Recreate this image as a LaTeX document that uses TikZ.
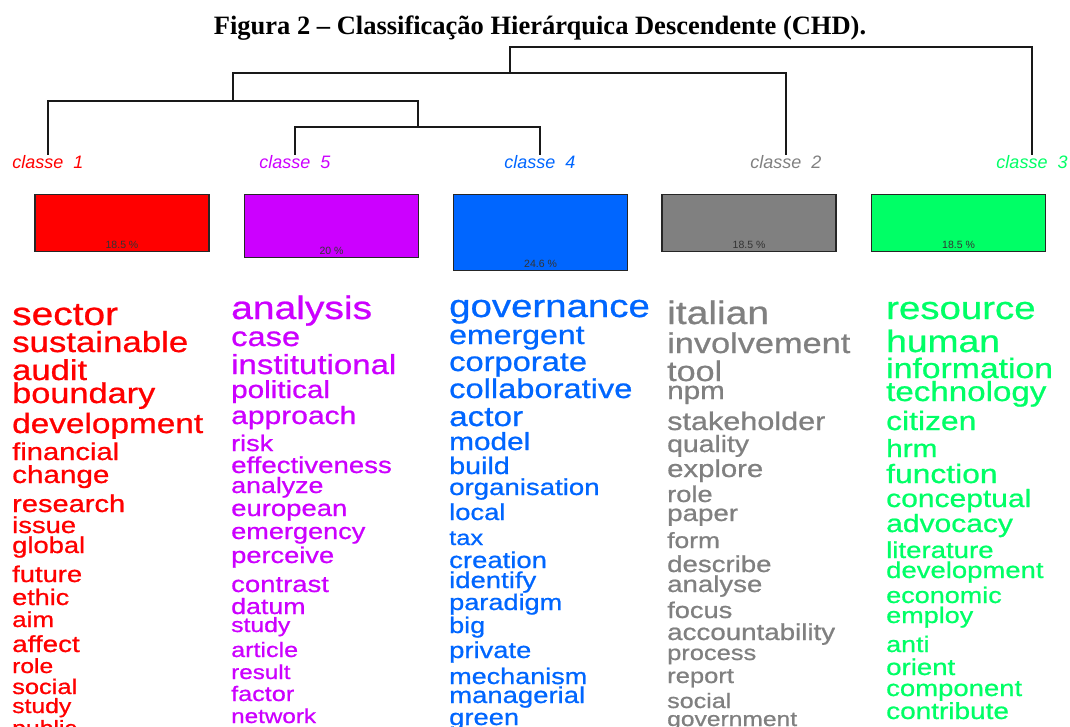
\documentclass[tikz,border=0pt]{standalone}
\usepackage{fontspec}
\setmainfont{Liberation Serif}
\newfontfamily\wordfont{Liberation Sans}[FakeStretch=1.2, FakeBold=0.8]
\newfontfamily\classfont{Liberation Sans}
\definecolor{cred}{HTML}{FF0000}
\definecolor{cmag}{HTML}{CC00FF}
\definecolor{cblue}{HTML}{0066FF}
\definecolor{cgray}{HTML}{808080}
\definecolor{cgreen}{HTML}{00FF66}
\tikzset{
  classlabel/.style = {anchor=north, inner sep=0pt, font=\classfont\itshape\fontsize{18}{18}\selectfont},
  classbox/.style   = {draw=black!85, line width=1.3pt, anchor=north, minimum width=174pt, inner sep=0pt},
  pct/.style        = {anchor=base, inner sep=0pt, text=black!80, font=\classfont\fontsize{10.5}{10.5}\selectfont},
  word/.style       = {anchor=base west, inner sep=0pt},
  tree/.style       = {draw=black!90, line width=1.4pt}
}
\begin{document}
\begin{tikzpicture}[x=1pt, y=-1pt]
  \useasboundingbox (0,0) rectangle (1070,727);
  \clip (0,0) rectangle (1070,727);

  % title
  \node [anchor=base, inner sep=0pt, font=\bfseries\fontsize{26.5}{26.5}\selectfont] (title) at (540,35)
    {Figura 2 -- Classificação Hierárquica Descendente (CHD).};

  % classes
  \node [classlabel, text=cred]   (c1) at (48,155)  {classe\ \ 1};
  \node [classlabel, text=cmag]   (c5) at (295,155) {classe\ \ 5};
  \node [classlabel, text=cblue]  (c4) at (540,155) {classe\ \ 4};
  \node [classlabel, text=cgray]  (c2) at (786,155) {classe\ \ 2};
  \node [classlabel, text=cgreen] (c3) at (1032,155) {classe\ \ 3};

  % dendrogram
  \coordinate (m1) at (418,127);
  \coordinate (m2) at (233,101);
  \coordinate (m3) at (510,73);
  \coordinate (m4) at (510,47);
  \path [tree] (c5.north) |- (m1) -| (c4.north);
  \path [tree] (c1.north) |- (m2) -| (m1);
  \path [tree] (m2) |- (m3) -| (c2.north);
  \path [tree] (m3) |- (m4) -| (c3.north);

  % boxes
  \node [classbox, fill=cred,   minimum height=57pt] (b1) at (122,194)   {};
  \node [classbox, fill=cmag,   minimum height=63pt] (b5) at (331.5,194) {};
  \node [classbox, fill=cblue,  minimum height=76pt] (b4) at (540.5,194) {};
  \node [classbox, fill=cgray,  minimum height=57pt] (b2) at (749,194)   {};
  \node [classbox, fill=cgreen, minimum height=57pt] (b3) at (958.5,194) {};
  \node [pct] (p1) at ([yshift=4pt]b1.south) {18.5 \%};
  \node [pct] (p5) at ([yshift=4pt]b5.south) {20 \%};
  \node [pct] (p4) at ([yshift=4pt]b4.south) {24.6 \%};
  \node [pct] (p2) at ([yshift=4pt]b2.south) {18.5 \%};
  \node [pct] (p3) at ([yshift=4pt]b3.south) {18.5 \%};

  % words
  \foreach \w/\s/\y [count=\i] in {sector/32.4/325, sustainable/29/352, audit/28.8/380, boundary/28.6/403,
      development/27.8/433, financial/24.3/460, change/24.7/483, research/24.2/512, issue/22.8/533,
      global/22.8/553, future/22.8/582, ethic/22.5/605, aim/21.7/627, affect/23.2/652, role/20.5/673,
      social/21.2/694, study/20.6/713, public/20.6/735}
    \node [word, text=cred, font=\wordfont\fontsize{\s}{\s}\selectfont] (wr\i) at (12,\y) {\w};
  \foreach \w/\s/\y [count=\i] in {analysis/32.5/319, case/27.2/346, institutional/27.5/374, political/24.7/398,
      approach/25/424, risk/22.5/451, effectiveness/23/473, analyze/22.3/493, european/22.9/516,
      emergency/22.6/539, perceive/22.7/563, contrast/22.9/592, datum/22.3/614, study/20.6/632,
      article/20.9/657, result/20.2/679, factor/21/701, network/20.2/723}
    \node [word, text=cmag, font=\wordfont\fontsize{\s}{\s}\selectfont] (wm\i) at (231,\y) {\w};
  \foreach \w/\s/\y [count=\i] in {governance/32/317, emergent/26.7/344, corporate/27.2/371, collaborative/27.2/398,
      actor/27.7/426, model/24.8/450, build/23.9/474, organisation/23/495, local/22.8/520, tax/21.2/545,
      creation/22.9/568, identify/22.9/588, paradigm/22.6/610, big/22.5/633, private/22.8/658,
      mechanism/22.5/684, managerial/22.9/703, green/22.8/725}
    \node [word, text=cblue, font=\wordfont\fontsize{\s}{\s}\selectfont] (wb\i) at (449,\y) {\w};
  \foreach \w/\s/\y [count=\i] in {italian/32.5/324, involvement/28.6/353, tool/28.4/381, npm/24.7/399,
      stakeholder/25.5/430, quality/23.6/452, explore/24.4/477, role/22.7/502, paper/23.1/521, form/22/548,
      describe/23/572, analyse/23/592, focus/22.7/618, accountability/23.1/640, process/21.2/660,
      report/21.3/683, social/20.9/708, government/20.5/726}
    \node [word, text=cgray, font=\wordfont\fontsize{\s}{\s}\selectfont] (wg\i) at (667,\y) {\w};
  \foreach \w/\s/\y [count=\i] in {resource/32/319, human/31/352, information/28.1/378, technology/27.6/401,
      citizen/26.5/430, hrm/24.8/457, function/26.5/483, conceptual/25/507, advocacy/25/532,
      literature/23/558, development/22.9/578, economic/22.5/603, employ/22.5/623, anti/22.4/652,
      orient/23/675, component/22.9/696, contribute/23.3/719}
    \node [word, text=cgreen, font=\wordfont\fontsize{\s}{\s}\selectfont] (wn\i) at (886,\y) {\w};
\end{tikzpicture}
\end{document}
